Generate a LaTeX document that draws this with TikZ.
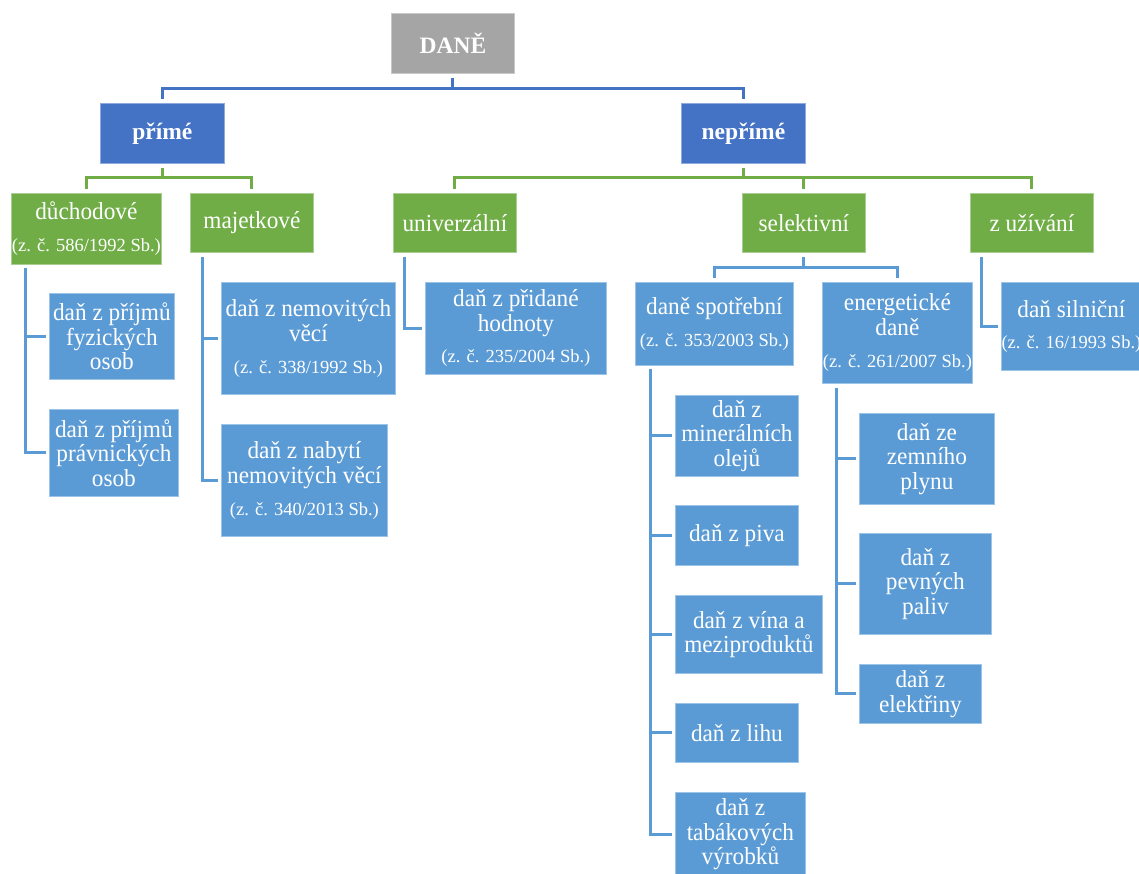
\documentclass[tikz,border=0pt]{standalone}
\usepackage{fontspec}
\setmainfont{Liberation Serif}
\newfontfamily\narrowserif[FakeStretch=0.95]{Liberation Serif}
\definecolor{cgray}{HTML}{A5A5A5}
\definecolor{cdblue}{HTML}{4472C4}
\definecolor{cgreen}{HTML}{70AD47}
\definecolor{clblue}{HTML}{5B9BD5}
\newcommand{\sm}[1]{{\rmfamily\fontsize{18.5}{20}\selectfont #1}}
\tikzset{
  base/.style={anchor=north west, inner sep=0pt, align=center, text=white,
    font=\narrowserif\fontsize{24.5}{24.5}\selectfont, line width=0.8pt},
  gbox/.style={base, fill=cgray, draw=cgray!60!white, font=\rmfamily\fontsize{23.5}{24.5}\selectfont\bfseries},
  dbox/.style={base, fill=cdblue, draw=cdblue!60!white, font=\rmfamily\fontsize{23.5}{24.5}\selectfont\bfseries},
  grbox/.style={base, fill=cgreen, draw=cgreen!60!white},
  lbox/.style={base, fill=clblue, draw=clblue!60!white},
  c1/.style={draw=cdblue, line width=3pt},
  c2/.style={draw=cgreen, line width=3pt},
  c3/.style={draw=clblue, line width=3pt},
}
\begin{document}
\begin{tikzpicture}[x=1pt,y=1pt]
\useasboundingbox (0,0) rectangle (1139,-873);
\clip (0,0) rectangle (1139,-873);
% level 0/1
\node[gbox, minimum width=123, minimum height=60] (dane) at (391,-13) {DANĚ};
\node[dbox, minimum width=124, minimum height=60] (prime) at (100,-103) {přímé};
\node[dbox, minimum width=124, minimum height=60] (neprime) at (681,-103) {nepřímé};
% level 2
\node[grbox, minimum width=150, minimum height=71] (duch) at (11,-193) {důchodové\\[7.5pt]\sm{(z. č. 586/1992 Sb.)}};
\node[grbox, minimum width=123, minimum height=59] (majet) at (190,-193) {majetkové};
\node[grbox, minimum width=123, minimum height=59] (univ) at (393,-193) {univerzální};
\node[grbox, minimum width=123, minimum height=59] (selek) at (742,-193) {selektivní};
\node[grbox, minimum width=123, minimum height=59] (zuziv) at (970,-193) {z užívání};
% level 3
\node[lbox, minimum width=125, minimum height=86] (fyz) at (49,-293) {daň z příjmů\\fyzických\\osob};
\node[lbox, minimum width=129, minimum height=87] (prav) at (49,-409) {daň z příjmů\\právnických\\osob};
\node[lbox, minimum width=174, minimum height=112] (nemov) at (221,-282) {daň z nemovitých\\věcí\\[7.5pt]\sm{(z. č. 338/1992 Sb.)}};
\node[lbox, minimum width=166, minimum height=112] (nabyti) at (221,-424) {daň z nabytí\\nemovitých věcí\\[7.5pt]\sm{(z. č. 340/2013 Sb.)}};
\node[lbox, minimum width=181, minimum height=92] (dph) at (425,-282) {daň z přidané\\hodnoty\\[7pt]\sm{(z. č. 235/2004 Sb.)}};
\node[lbox, minimum width=158, minimum height=83] (spotr) at (635,-282) {daně spotřební\\[8pt]\sm{(z. č. 353/2003 Sb.)}};
\node[lbox, minimum width=150, minimum height=101] (energ) at (822,-282) {energetické\\daně\\[8pt]\sm{(z. č. 261/2007 Sb.)}};
\node[lbox, minimum width=140, minimum height=88] (silni) at (1001,-282) {daň silniční\\[7pt]\sm{(z. č. 16/1993 Sb.)}};
% level 4
\node[lbox, minimum width=123, minimum height=81] (miner) at (675,-395) {daň z\\minerálních\\olejů};
\node[lbox, minimum width=123, minimum height=60] (piva) at (675,-505) {daň z piva};
\node[lbox, minimum width=147, minimum height=78] (vina) at (675,-595) {daň z vína a\\meziproduktů};
\node[lbox, minimum width=123, minimum height=59] (lihu) at (675,-703) {daň z lihu};
\node[lbox, minimum width=130, minimum height=84] (tabak) at (675,-792) {daň z\\tabákových\\výrobků};
\node[lbox, minimum width=135, minimum height=91] (zemni) at (859,-413) {daň ze\\zemního\\plynu};
\node[lbox, minimum width=132, minimum height=101] (pevny) at (859,-533) {daň z\\pevných\\paliv};
\node[lbox, minimum width=122, minimum height=59] (elekt) at (859,-664) {daň z\\elektřiny};
% connectors level 1
\draw[c1] ([yshift=-4]dane.south) -- ++(0,-11) -| ([yshift=4]prime.north);
\draw[c1] ([yshift=-4]dane.south) -- ++(0,-11) -| ([yshift=4]neprime.north);
% connectors level 2
\draw[c2] ([yshift=-4]prime.south) -- ++(0,-10) -| ([yshift=4]duch.north);
\draw[c2] ([yshift=-4]prime.south) -- ++(0,-10) -| ([yshift=4]majet.north);
\draw[c2] ([yshift=-4]neprime.south) -- ++(0,-10) -| ([yshift=4]univ.north);
\draw[c2] ([yshift=-4]neprime.south) -- ++(0,-10) -| ([yshift=4]selek.north);
\draw[c2] ([yshift=-4]neprime.south) -- ++(0,-10) -| ([yshift=4]zuziv.north);
% connectors level 3
\draw[c3] ([xshift=14,yshift=-3]duch.south west) |- ([xshift=-3]fyz.west);
\draw[c3] ([xshift=14,yshift=-3]duch.south west) |- ([xshift=-3]prav.west);
\draw[c3] ([xshift=12,yshift=-4]majet.south west) |- ([xshift=-3]nemov.west);
\draw[c3] ([xshift=12,yshift=-4]majet.south west) |- ([xshift=-3]nabyti.west);
\draw[c3] ([xshift=11,yshift=-4]univ.south west) |- ([xshift=-3]dph.west);
\draw[c3] ([xshift=11,yshift=-4]zuziv.south west) |- ([xshift=-3]silni.west);
\draw[c3] ([yshift=-4]selek.south) -- ++(0,-11) -| ([yshift=4]spotr.north);
\draw[c3] ([yshift=-4]selek.south) -- ++(0,-11) -| ([yshift=4]energ.north);
% connectors level 4
\foreach \t in {miner,piva,vina,lihu,tabak}
  \draw[c3] ([xshift=15,yshift=-3]spotr.south west) |- ([xshift=-3]\t.west);
\foreach \t in {zemni,pevny,elekt}
  \draw[c3] ([xshift=14,yshift=-4]energ.south west) |- ([xshift=-3]\t.west);
\end{tikzpicture}
\end{document}
